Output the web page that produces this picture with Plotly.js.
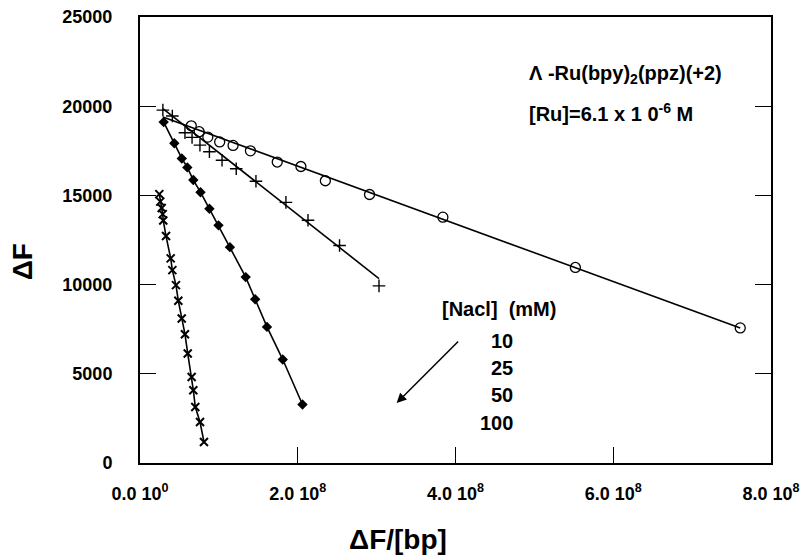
<!DOCTYPE html>
<html>
<head>
<meta charset="utf-8">
<script src="https://cdn.plot.ly/plotly-3.0.1.min.js"></script>
<style>html,body{margin:0;padding:0;background:#fff;}#chart{width:807px;height:556px;}</style>
</head>
<body>
<div id="chart"></div>
<script>
// 10 mM NaCl (open circles)
const x10 = [0.65e8,0.75e8,0.86e8,1.01e8,1.18e8,1.40e8,1.74e8,2.04e8,2.35e8,2.91e8,3.84e8,5.52e8,7.61e8];
const y10 = [18900,18570,18270,18000,17800,17500,16870,16620,15820,15050,13780,10960,7570];
const fitX10 = [0.29e8, 7.61e8];
const fitY10 = [19400, 7570];
// 25 mM NaCl (plus)
const x25 = [0.29e8,0.41e8,0.57e8,0.66e8,0.76e8,0.88e8,1.04e8,1.22e8,1.47e8,1.85e8,2.13e8,2.53e8,3.03e8];
const y25 = [19780,19450,18510,18250,17820,17450,16970,16490,15790,14610,13610,12190,9930];
const fitX25 = [0.29e8, 3.03e8];
const fitY25 = [19860, 10340];
// 50 mM NaCl (filled diamonds)
const x50 = [0.30e8,0.435e8,0.53e8,0.60e8,0.676e8,0.767e8,0.88e8,0.995e8,1.14e8,1.34e8,1.46e8,1.61e8,1.81e8,2.06e8];
const y50 = [19110,17920,17070,16570,15860,15180,14250,13320,12100,10420,9180,7630,5800,3280];
// 100 mM NaCl (x)
const x100 = [0.245e8,0.257e8,0.275e8,0.288e8,0.295e8,0.33e8,0.389e8,0.41e8,0.456e8,0.486e8,0.529e8,0.57e8,0.605e8,0.655e8,0.676e8,0.701e8,0.761e8,0.811e8];
const y100 = [15070,14650,14290,13950,13590,12720,11470,10810,9970,9090,8100,7220,6140,4820,4080,3140,2300,1180];

const xTickVals = [0, 2e8, 4e8, 6e8, 8e8];
const xTickText = ['0.0 10<sup>0</sup>','2.0 10<sup>8</sup>','4.0 10<sup>8</sup>','6.0 10<sup>8</sup>','8.0 10<sup>8</sup>'];
const yTickVals = [0, 5000, 10000, 15000, 20000, 25000];
const yTickText = ['0','5000','10000','15000','20000','25000'];
const saltLabels = ['10','25','50','100'];

const FONT = 'Liberation Sans, Arial, Helvetica, sans-serif';
const blk = '#000';

const traces = [
  {x: fitX10, y: fitY10, mode: 'lines', line: {color: blk, width: 1.6}, hoverinfo:'skip'},
  {x: x10, y: y10, mode: 'markers', marker: {symbol: 'circle-open', size: 10, color: blk, line: {width: 1.3, color: blk}}},
  {x: fitX25, y: fitY25, mode: 'lines', line: {color: blk, width: 1.6}, hoverinfo:'skip'},
  {x: x25, y: y25, mode: 'markers', marker: {symbol: 'cross-thin-open', size: 9, color: blk, line: {width: 1.4, color: blk}}},
  {x: x50, y: y50, mode: 'lines+markers', line: {color: blk, width: 1.6}, marker: {symbol: 'diamond', size: 8, color: blk}},
  {x: x100, y: y100, mode: 'lines+markers', line: {color: blk, width: 1.6}, marker: {symbol: 'x-thin-open', size: 8, color: blk, line: {width: 2, color: blk}}}
];

const tf = (s) => ({family: FONT, size: s, color: blk, weight: 700});
const annotations = [
  {xref:'paper', yref:'paper', x: 0.409, y: -0.171, xanchor: 'center', yanchor: 'middle', text: 'ΔF/[bp]', showarrow: false, font: tf(28)},
  {xref:'paper', yref:'paper', x: -0.187, y: 0.45, xanchor: 'center', yanchor: 'middle', text: 'ΔF', textangle: -90, showarrow: false, font: tf(28)},
  {x: 4.906e8, y: 21750, xanchor: 'left', text: 'Λ -Ru(bpy)<sub>2</sub>(ppz)(+2)', showarrow: false, font: tf(20)},
  {x: 4.906e8, y: 19620, xanchor: 'left', text: '[Ru]=6.1 x 1 0<sup>-6</sup> M', showarrow: false, font: tf(20)},
  {x: 4.55e8, y: 8620, text: '[Nacl]  (mM)', showarrow: false, font: tf(20)},
  {x: 3.254e8, y: 3365, ax: 63, ay: -63, text: '', showarrow: true, arrowhead: 2, arrowsize: 1.3, arrowwidth: 1.5, arrowcolor: blk}
];
const saltY = [6830, 5310, 3800, 2230];
saltLabels.forEach((s, i) => annotations.push({x: 4.754e8, y: saltY[i], text: s, xanchor: 'right', showarrow: false, font: tf(20)}));

const layout = {
  width: 807, height: 556,
  margin: {l: 140, r: 36, t: 17, b: 93, autoexpand: false},
  paper_bgcolor: '#fff', plot_bgcolor: '#fff',
  showlegend: false,
  font: {family: FONT, color: blk},
  xaxis: {range: [0, 8e8], tickvals: xTickVals, ticktext: xTickText, ticks: 'inside', ticklen: 16, tickwidth: 1.2, tickcolor: blk,
          showline: true, linecolor: blk, linewidth: 2, mirror: true, showgrid: false, zeroline: false,
          tickfont: tf(18), ticklabelstandoff: 13},
  yaxis: {range: [0, 25000], tickvals: yTickVals, ticktext: yTickText, ticks: 'inside', ticklen: 16, tickwidth: 1.2, tickcolor: blk,
          showline: true, linecolor: blk, linewidth: 2, mirror: 'ticks', showgrid: false, zeroline: false,
          tickfont: tf(18), ticklabelstandoff: 22},
  annotations: annotations
};

Plotly.newPlot('chart', traces, layout, {staticPlot: true, displayModeBar: false});
</script>
</body>
</html>
